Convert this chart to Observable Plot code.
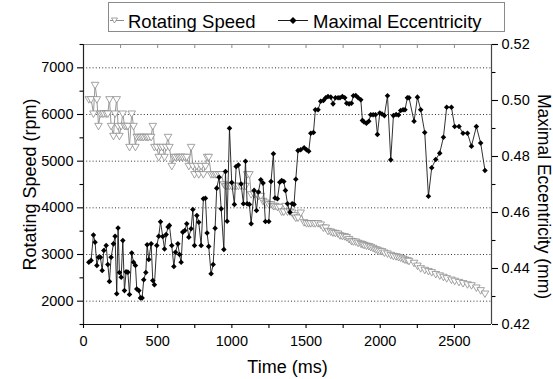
<!DOCTYPE html>
<html>
<head>
<meta charset="utf-8">
<script src="https://cdn.jsdelivr.net/npm/d3@7"></script>
<script src="https://cdn.jsdelivr.net/npm/@observablehq/plot@0.6"></script>
<style>
  html, body { margin: 0; padding: 0; background: #fff; }
  body { font-family: "Liberation Sans", Arial, sans-serif; }
  #wrap { width: 553px; height: 379px; overflow: hidden; }
  svg { display: block; }
</style>
</head>
<body>
<div id="wrap"></div>
<script>
// ---- data ----
const timeMs = [
  36,51,67,78,90,101,114,126,137,153,164,175,186,202,213,224,233,242,254,265,
  276,287,299,310,325,337,350,359,373,384,395,406,420,429,440,456,467,478,494,507,
  519,534,546,557,570,579,595,609,620,636,647,658,669,683,696,710,725,737,748,764,
  777,793,808,822,833,844,860,874,887,898,914,928,946,957,968,984,999,1017,1029,1044,
  1062,1078,1092,1103,1118,1130,
  1150,1166,1179,1195,1210,1226,1249,1264,1280,1291,1307,1323,1336,1350,1361,1375,1392,1406,1419,1431,
  1446,1464,1487,1503,1518,1532,1550,1563,1581,1599,1617,1633,1648,1667,1682,1698,1716,1729,1745,1761,
  1774,1790,1806,1819,1835,1851,1869,1880,1891,1907,1923,1936,1952,1968,1981,1997,2012,2028,2049,2071,
  2089,2107,2123,2138,2154,2167,2183,2194,
  2228,2251,2273,2300,2325,2347,2374,2401,2426,2448,2480,2502,2531,2558,2588,2615,2648,2677,2706
];
const speedRpm = [
  6336,6336,6029,6643,6336,5764,6029,6029,6029,6029,6029,6336,5764,5550,6029,6336,5764,5550,5764,6029,
  5764,5764,5764,5314,6029,5764,5314,5529,5529,5529,5529,5529,5529,5529,5529,5529,5764,5314,5314,5100,
  5314,5314,5100,5314,5529,5314,4907,5100,5100,5100,5100,5100,5100,5100,5100,4907,5314,4907,4729,4907,
  4729,4907,4729,4907,5100,5100,4729,4729,4729,4729,4729,4729,4514,4480,4480,4480,4480,4480,4480,4480,
  4480,4480,4480,4729,4729,4300,
  4300,4300,4264,4264,4157,4121,4086,4086,4050,4050,4029,4029,3929,3929,4050,3929,3929,3907,3850,3800,
  3800,3907,3700,3679,3679,3679,3679,3679,3679,3650,3586,3586,3514,3500,3479,3470,3457,3420,3407,3400,
  3380,3340,3300,3290,3286,3260,3243,3230,3214,3200,3190,3171,3150,3121,3110,3090,3080,3050,3030,3000,
  2979,2970,2957,2940,2920,2900,2886,2871,
  2830,2770,2714,2680,2655,2630,2590,2560,2530,2500,2470,2445,2420,2395,2370,2350,2300,2243,2171
];
const eccMm = [
  0.4422,0.4429,0.4520,0.4494,0.4411,0.4440,0.4440,0.4393,0.4464,0.4482,0.4414,0.4354,0.4440,0.4488,0.4515,0.4310,0.4545,0.4386,0.4369,0.4500,
  0.4321,0.4388,0.4387,0.4307,0.4455,0.4422,0.4411,0.4327,0.4321,0.4295,0.4295,0.4360,0.4386,0.4485,0.4432,0.4488,0.4357,0.4342,0.4482,0.4515,
  0.4567,0.4514,0.4470,0.4521,0.4548,0.4554,0.4482,0.4407,0.4458,0.4488,0.4450,0.4422,0.4530,0.4536,0.4560,0.4512,0.4542,0.4611,0.4482,0.4589,
  0.4565,0.4482,0.4649,0.4651,0.4527,0.4479,0.4381,0.4414,0.4544,0.4687,0.4726,0.4613,0.4468,0.4746,0.4569,0.4901,0.4707,0.4629,0.4764,0.4770,
  0.4702,0.4631,0.4783,0.4631,0.4629,0.4560,
  0.4679,0.4607,0.4673,0.4717,0.4705,0.4568,0.4568,0.4711,0.4810,0.4652,0.4649,0.4708,0.4714,0.4711,0.4679,0.4631,0.4601,0.4631,0.4629,0.4719,
  0.4821,0.4824,0.4831,0.4824,0.4819,0.4883,0.4886,0.4967,0.4967,0.4997,0.5000,0.5010,0.5014,0.5012,0.4988,0.5010,0.5010,0.5010,0.5014,0.5010,
  0.4990,0.4988,0.4990,0.5017,0.5018,0.5010,0.5003,0.4929,0.4923,0.4919,0.4926,0.4949,0.4949,0.4949,0.4879,0.4955,0.4952,0.4946,0.5017,0.4788,
  0.4946,0.4950,0.4948,0.4964,0.4967,0.4967,0.5010,0.5010,
  0.4926,0.5012,0.4967,0.4886,0.4658,0.4760,0.4789,0.4812,0.4869,0.4976,0.4976,0.4907,0.4907,0.4883,0.4883,0.4837,0.4907,0.4848,0.4750
];

const xTicks = [0, 500, 1000, 1500, 2000, 2500];
const xMinorTicks = [250, 750, 1250, 1750, 2250];
const topTicks = [250, 500, 750, 1000, 1250, 1500, 1750, 2000, 2250, 2500];
const speedTicks = [2000, 3000, 4000, 5000, 6000, 7000];
const speedMinorTicks = [1500, 2500, 3500, 4500, 5500, 6500, 7500];
const eccTicks = [0.42, 0.44, 0.46, 0.48, 0.50, 0.52];
const eccMinorTicks = [0.43, 0.45, 0.47, 0.49, 0.51];

const xDomain = [0, 2750];
const speedDomain = [1500, 7500];
const eccDomain = [0.42, 0.52];

const seriesNames = ["Rotating Speed", "Maximal Eccentricity"];
const xLabel = "Time (ms)";
const yLabelLeft = "Rotating Speed (rpm)";
const yLabelRight = "Maximal Eccentricity (mm)";

// map eccentricity onto the speed scale (right axis)
const e2s = e => speedDomain[0] + (e - eccDomain[0]) / (eccDomain[1] - eccDomain[0]) * (speedDomain[1] - speedDomain[0]);
const s2e = s => eccDomain[0] + (s - speedDomain[0]) / (speedDomain[1] - speedDomain[0]) * (eccDomain[1] - eccDomain[0]);

const data = timeMs.map((t, i) => ({t, speed: speedRpm[i], ecc: e2s(eccMm[i])}));

const FONT = "'Liberation Sans', Arial, sans-serif";
const wrap = document.getElementById("wrap");
const intFmt = d3.format("d");

// ---- legend (above the plot) ----
const legendH = 36;
const ns = "http://www.w3.org/2000/svg";
const leg = document.createElementNS(ns, "svg");
leg.setAttribute("width", 553);
leg.setAttribute("height", legendH);
leg.innerHTML = `
  <rect x="108.5" y="2.5" width="396" height="29" fill="white" stroke="#8a8a8a" stroke-width="1"/>
  <line x1="110" y1="20.5" x2="124" y2="20.5" stroke="#8c8c8c" stroke-width="1"/>
  <path d="M111.5,18 L117.5,18 L114.5,23 Z" fill="white" stroke="#8c8c8c" stroke-width="0.8"/>
  <text x="128" y="28.3" font-family="${FONT}" font-size="18.5" fill="#000">${seriesNames[0]}</text>
  <line x1="278" y1="20.5" x2="308" y2="20.5" stroke="#1a1a1a" stroke-width="1"/>
  <path d="M293,17 L296.5,20.5 L293,24 L289.5,20.5 Z" fill="#000"/>
  <text x="313" y="28.3" font-family="${FONT}" font-size="18.5" fill="#000">${seriesNames[1]}</text>
`;
wrap.appendChild(leg);

// ---- plot ----
const chart = Plot.plot({
  width: 553,
  height: 379 - legendH,
  marginTop: 8,
  marginBottom: 55,
  marginLeft: 83,
  marginRight: 62,
  style: {fontFamily: FONT, fontSize: "14.5px", color: "#000", background: "white", overflow: "visible"},
  x: {domain: xDomain},
  y: {domain: speedDomain},
  marks: [
    Plot.gridY(speedTicks, {stroke: "#333", strokeOpacity: 1, strokeDasharray: "1,2.2", strokeWidth: 1}),
    Plot.line(data, {x: "t", y: "speed", stroke: "#8c8c8c", strokeWidth: 0.9}),
    Plot.dot(data, {x: "t", y: "speed", symbol: "triangle", rotate: 180, r: 2.8, stroke: "#8c8c8c", fill: "white", strokeWidth: 0.8}),
    Plot.line(data, {x: "t", y: "ecc", stroke: "#1a1a1a", strokeWidth: 0.9}),
    Plot.dot(data, {x: "t", y: "ecc", symbol: "diamond2", r: 2.5, fill: "#000", stroke: "none"}),
    // frame
    Plot.ruleY([speedDomain[1]], {stroke: "#8a8a8a", strokeWidth: 1.2}),
    Plot.ruleX(topTicks, {insetBottom: 276, stroke: "#8a8a8a", strokeWidth: 1}),
    Plot.ruleX([xDomain[1]], {stroke: "#444", strokeWidth: 1.2}),
    Plot.ruleX([xDomain[0]], {stroke: "#222", strokeWidth: 1.2}),
    Plot.ruleY([speedDomain[0]], {stroke: "#111", strokeWidth: 1.2}),
    // axes
    Plot.axisX(xTicks, {anchor: "bottom", tickSize: 4, tickPadding: 7, tickFormat: intFmt, label: null, strokeWidth: 1.1}),
    Plot.axisX(xMinorTicks, {anchor: "bottom", tickSize: 4, tickFormat: () => "", label: null, strokeWidth: 1.1}),
    Plot.axisY(speedTicks, {anchor: "left", tickSize: 6, tickPadding: 4, tickFormat: intFmt, label: null, strokeWidth: 1.1}),
    Plot.axisY(speedMinorTicks, {anchor: "left", tickSize: 3.5, tickFormat: () => "", label: null, strokeWidth: 1.1}),
    Plot.axisY(eccTicks.map(e2s), {anchor: "right", tickSize: 6, tickPadding: 4, tickFormat: s => s2e(s).toFixed(2), label: null, strokeWidth: 1.1}),
    Plot.axisY(eccMinorTicks.map(e2s), {anchor: "right", tickSize: 3.5, tickFormat: () => "", label: null, strokeWidth: 1.1}),
    // axis titles
    Plot.text([yLabelLeft], {text: d => d, frameAnchor: "left", dx: -53, rotate: -90, textAnchor: "middle", lineAnchor: "middle", fontSize: 18, fill: "#000"}),
    Plot.text([yLabelRight], {text: d => d, frameAnchor: "right", dx: 52, dy: 12, rotate: 90, textAnchor: "middle", lineAnchor: "middle", fontSize: 17.5, fill: "#000"}),
    Plot.text([xLabel], {text: d => d, frameAnchor: "bottom", dy: 43, textAnchor: "middle", lineAnchor: "middle", fontSize: 18, fill: "#000"})
  ]
});
wrap.appendChild(chart);
</script>
</body>
</html>
